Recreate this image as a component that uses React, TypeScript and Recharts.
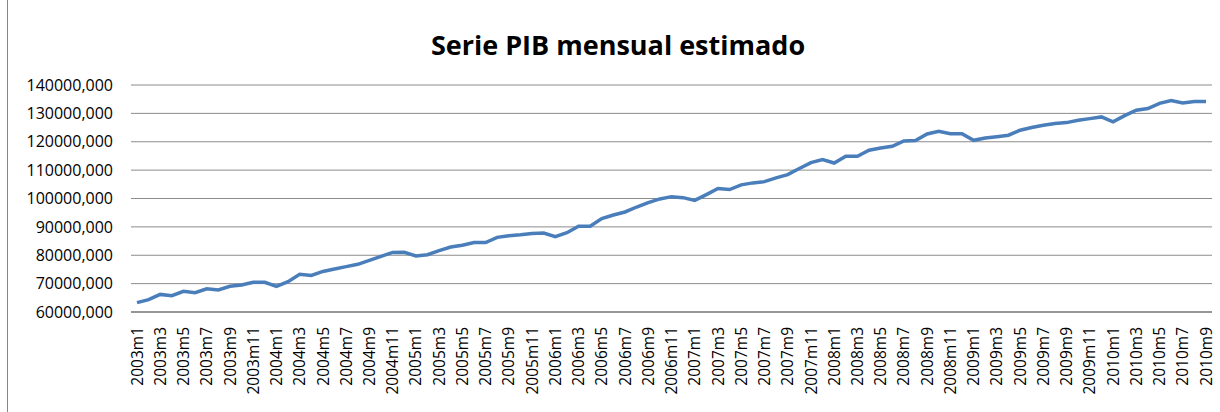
import React from 'react';
import { LineChart, Line, XAxis, YAxis, CartesianGrid } from 'recharts';

const years = ['2003', '2004', '2005', '2006', '2007', '2008', '2009', '2010'];

// 2003m1 .. 2010m9
const months: string[] = years.flatMap(y =>
  Array.from({ length: y === '2010' ? 9 : 12 }, (_, i) => `${y}m${i + 1}`)
);

const pib = [
  63300, 64350, 66200, 65750, 67300, 66800, 68200, 67750, 69050, 69500, 70450, 70450,
  69050, 70700, 73300, 72900, 74300, 75150, 76000, 76800, 78200, 79600, 81000, 81050,
  79750, 80200, 81600, 82900, 83500, 84450, 84450, 86300, 86900, 87250, 87700, 87850,
  86550, 87950, 90200, 90200, 92900, 94200, 95250, 97000, 98550, 99850, 100650, 100300,
  99350, 101350, 103500, 103150, 104800, 105500, 105950, 107250, 108400, 110550, 112650, 113700,
  112500, 114900, 114900, 117000, 117800, 118400, 120300, 120400, 122750, 123700, 122850, 122850,
  120500, 121350, 121800, 122300, 124050, 125000, 125800, 126400, 126750, 127550, 128150, 128750,
  127000, 129200, 131100, 131700, 133550, 134500, 133700, 134150, 134150,
];

const yTicks = [60000, 70000, 80000, 90000, 100000, 110000, 120000, 130000, 140000];

const data = months.map((m, i) => ({ month: m, value: pib[i] }));

const MonthTick = (props: any) => {
  const { x, y, payload } = props;
  return (
    <g transform={`translate(${x},${y})`}>
      <text
        transform="rotate(-90)"
        x={-7}
        y={0}
        dy="0.36em"
        textAnchor="end"
        fill="#000"
        fontSize={15.5}
        fontFamily="Open Sans"
      >
        {payload.value}
      </text>
    </g>
  );
};

export default function App() {
  return (
    <div style={{ position: 'absolute', left: 0, top: 0, width: 1220, height: 412, background: '#fff', overflow: 'hidden' }}>
      <div style={{ position: 'absolute', left: 7, top: -1, width: 1260, height: 430, border: '1px solid #868686' }} />
      <div
        style={{
          position: 'absolute', left: 0, top: 26, width: 1236, textAlign: 'center',
          fontFamily: 'Open Sans', fontWeight: 'bold', fontSize: 27, lineHeight: '38px', color: '#000',
        }}
      >
        Serie PIB mensual estimado
      </div>
      <LineChart width={1220} height={412} data={data} margin={{ top: 85, right: 8, bottom: 0, left: 0 }}>
        <CartesianGrid vertical={false} stroke="#8c8c8c" strokeWidth={1} />
        <XAxis
          dataKey="month"
          interval={1}
          height={100}
          padding={{ left: 6, right: 6 }}
          tickLine={false}
          axisLine={{ stroke: '#868686', strokeWidth: 1.5 }}
          tick={<MonthTick />}
        />
        <YAxis
          width={131}
          domain={[60000, 140000]}
          ticks={yTicks}
          tickFormatter={(v: number) => `${v},000`}
          axisLine={false}
          tickLine={false}
          tickSize={0}
          tickMargin={18}
          tick={{ fill: '#000', fontSize: 16, fontFamily: 'Open Sans' }}
        />
        <Line
          type="linear"
          dataKey="value"
          stroke="#4a7ebb"
          strokeWidth={3.5}
          dot={false}
          isAnimationActive={false}
        />
      </LineChart>
    </div>
  );
}
